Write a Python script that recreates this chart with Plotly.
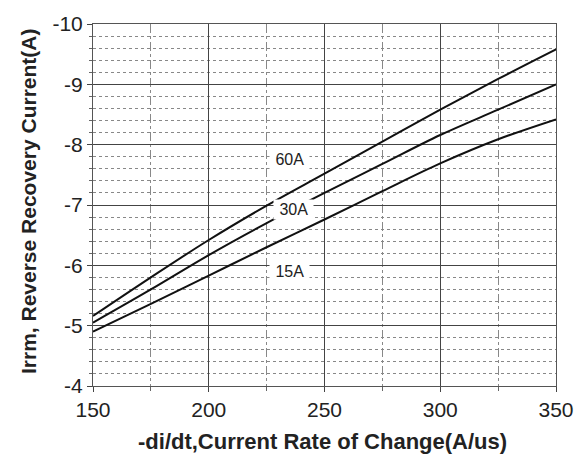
import plotly.graph_objects as go

# di/dt sweep (A/us)
di_dt = [150, 175, 200, 225, 250, 275, 300, 325, 350]

# Peak reverse recovery current (A) for each forward current
irrm_60a = [-5.16, -5.80, -6.42, -6.99, -7.52, -8.05, -8.58, -9.09, -9.58]
irrm_30a = [-5.05, -5.60, -6.17, -6.70, -7.20, -7.68, -8.16, -8.58, -9.00]
irrm_15a = [-4.90, -5.36, -5.83, -6.30, -6.76, -7.23, -7.69, -8.09, -8.42]

curve_labels = ["60A", "30A", "15A"]
label_pos = [(234.7, -7.75), (236.5, -6.92), (235.0, -5.89)]

x_ticks = [150, 200, 250, 300, 350]
y_ticks = [-10, -9, -8, -7, -6, -5, -4]
y_tick_text = ["-10", "-9", "-8", "-7", "-6", "-5", "-4"]

FONT = "Liberation Sans, Arial, sans-serif"

fig = go.Figure()
for ys in (irrm_60a, irrm_30a, irrm_15a):
    fig.add_trace(go.Scatter(
        x=di_dt, y=ys, mode="lines",
        line=dict(color="#111111", width=2, shape="spline", smoothing=1.0),
        showlegend=False, hoverinfo="skip",
    ))

annotations = []
for text, (lx, ly) in zip(curve_labels, label_pos):
    annotations.append(dict(
        x=lx, y=ly, xref="x", yref="y", text="\u00a0" + text + "\u00a0",
        showarrow=False, font=dict(family=FONT, size=16, color="#222"),
        bgcolor="white", borderpad=1,
    ))

annotations.append(dict(
    x=-0.139, y=0.51, xref="paper", yref="paper",
    text="<b>Irrm, Reverse Recovery Current(A)</b>", textangle=-90,
    showarrow=False, xanchor="center", yanchor="middle",
    font=dict(family=FONT, size=21, color="#222"),
))
annotations.append(dict(
    x=0.496, y=-0.152, xref="paper", yref="paper",
    text="<b>-di/dt,Current Rate of Change(A/us)</b>",
    showarrow=False, xanchor="center", yanchor="middle",
    font=dict(family=FONT, size=22, color="#222"),
))

fig.update_layout(
    width=586, height=457,
    margin=dict(l=93, r=28, t=18, b=71),
    paper_bgcolor="white", plot_bgcolor="white",
    annotations=annotations,
    font=dict(family=FONT, color="#222"),
)

fig.update_xaxes(
    range=[150, 350], tickvals=x_ticks,
    tickfont=dict(family=FONT, size=21, color="#222"),
    showgrid=True, gridcolor="#444", gridwidth=1,
    showline=True, linecolor="#555", linewidth=1, mirror=True,
    ticks="outside", ticklen=5, tickcolor="#444",
    zeroline=False,
    minor=dict(dtick=25, tick0=150, showgrid=True, gridcolor="#888",
               griddash="dashdot", gridwidth=1, ticks="outside", ticklen=4,
               tickcolor="#666"),
)
fig.update_yaxes(
    range=[-4, -10], tickvals=y_ticks, ticktext=y_tick_text,
    tickfont=dict(family=FONT, size=21, color="#222"),
    showgrid=True, gridcolor="#444", gridwidth=1,
    showline=True, linecolor="#555", linewidth=1, mirror=True,
    ticks="outside", ticklen=5, tickcolor="#444",
    zeroline=False,
    minor=dict(dtick=0.2, tick0=-10, showgrid=True, gridcolor="#888",
               griddash="dot", gridwidth=1, ticks="outside", ticklen=3,
               tickcolor="#666"),
)

fig.write_html("out.html")
